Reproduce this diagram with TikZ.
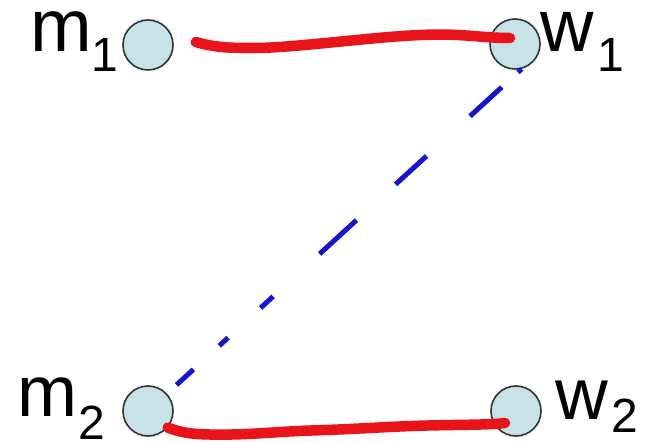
\documentclass[tikz,border=0pt]{standalone}
\usepackage{fontspec}
\setmainfont{Liberation Sans}
\usetikzlibrary{calc}
\definecolor{nodeBlue}{HTML}{C8E2EA}
\definecolor{pairRed}{HTML}{E8141A}
\definecolor{dashBlue}{HTML}{1414D2}
% letter size, letter, kern before index, drop of index, index
\newcommand{\agentlab}[5]{{\fontsize{#1}{#1}\selectfont #2}\kern#3pt\raisebox{-#4pt}{\fontsize{48}{48}\selectfont #5}}

\begin{document}
\begin{tikzpicture}[
  x=1pt, y=-1pt,
  agent/.style={circle, draw=black!80, line width=1.6pt, fill=nodeBlue, minimum size=50pt, inner sep=0pt},
  lab/.style={anchor=base west, inner sep=0pt, text=black},
  pair/.style={draw=pairRed, line width=10.5pt, line cap=round},
  unstable/.style={draw=dashBlue, line width=5pt,
    dash pattern=on 5pt off 22pt on 43pt off 59pt on 42pt off 53pt on 50pt off 63pt on 17pt off 44pt on 12pt off 35pt on 23pt off 20pt}
]
\useasboundingbox (0,0) rectangle (648,443);

\node[agent] (m1) at (148,45) {};
\node[agent] (w1) at (515,44) {};
\node[agent] (m2) at (148,411) {};
\node[agent] (w2) at (516,411) {};

\node[lab] (m1lab) at (30,52) {\agentlab{74}{m}{0}{20}{1}};
\node[lab] (w1lab) at (540,52) {\agentlab{74}{w}{4}{20}{1}};
\node[lab] (m2lab) at (17,417) {\agentlab{72}{m}{1.5}{23}{2}};
\node[lab] (w2lab) at (555,420) {\agentlab{73}{w}{4}{13}{2}};

% matched pairs
\draw[pair] ($(m1.east)+(22,-3)$) .. controls +(20,6) and +(-20,0) .. ++(58,6)
  .. controls +(40,0) and +(-50,2) .. ++(167,-13)
  .. controls +(40,-2) and +(-30,0) .. ($(w1.center)+(-5,-6)$);
\draw[pair] (m2.-40) .. controls +(18,7) and +(-23,0) .. ++(56,7)
  .. controls +(27,0) and +(-27,1) .. ++(84,-4)
  .. controls +(40,-1) and +(-35,1) .. ++(116,-5)
  .. controls +(40,-1) and +(-15,2) .. ($(w2.center)+(-11,12)$);

% blocking pair
\draw[unstable, shorten >=37pt] (w1.-75) -- (m2.center);
\end{tikzpicture}
\end{document}
